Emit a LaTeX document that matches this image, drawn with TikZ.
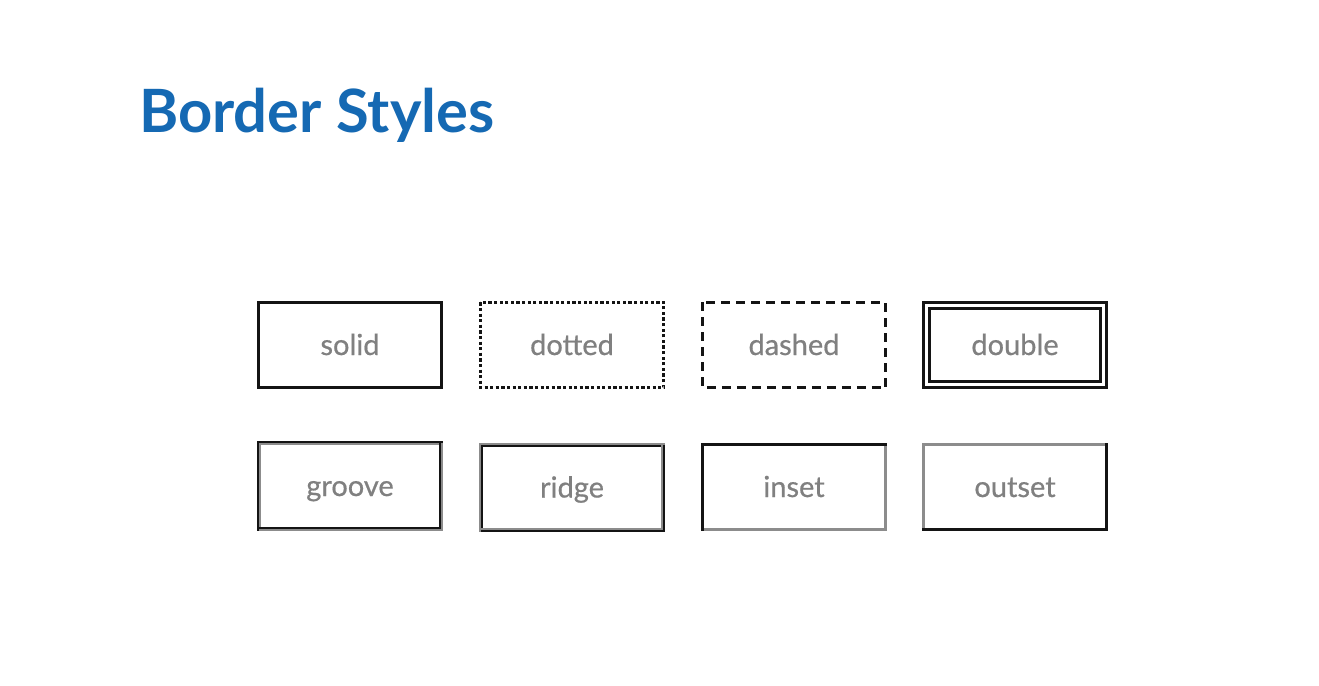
\documentclass[tikz,border=0pt]{standalone}
\usepackage{fontspec}
\setmainfont{Lato}
\newfontfamily\labelfont[FakeBold=0.6]{Lato}
\definecolor{titleblue}{HTML}{1569B3}
\definecolor{labelgray}{HTML}{808080}
\definecolor{edgegray}{HTML}{8C8C8C}
\definecolor{edgedark}{HTML}{141414}
\newcommand{\bevelTL}[4]{% node, color, inset, width
  \draw[line width=#4,color=#2,line cap=rect] ([shift={(#3,#3)}]#1.south west) -- ([shift={(#3,-#3)}]#1.north west) -- ([shift={(-#3,-#3)}]#1.north east);}
\newcommand{\bevelBR}[4]{%
  \draw[line width=#4,color=#2,line cap=rect] ([shift={(#3,#3)}]#1.south west) -- ([shift={(-#3,#3)}]#1.south east) -- ([shift={(-#3,-#3)}]#1.north east);}
\begin{document}
\begin{tikzpicture}[x=1pt,y=-1pt,
  box/.style={minimum width=186pt,minimum height=88pt,inner sep=0pt,
    text height=24pt,text depth=4pt,
    text=labelgray,font=\labelfont\fontsize{29}{32}\selectfont},
  frame/.style={draw=edgedark,line width=3pt}]
\useasboundingbox[fill=white] (0,0) rectangle (1319,685);
\node[anchor=base west,text=titleblue,inner sep=0pt,font=\fontsize{59.7}{64}\bfseries\selectfont] (title) at (139,132) {Border Styles};
% row 1
\node[box] (solid) at (350,345) {solid};
\node[box] (dotted) at (572,345) {dotted};
\node[box] (dashed) at (794,345) {dashed};
\node[box] (double) at (1015,345) {double};
\draw[frame] ([shift={(1.5pt,-1.5pt)}]solid.north west) rectangle ([shift={(-1.5pt,1.5pt)}]solid.south east);
\draw[frame,dash pattern=on 3.2pt off 2.4pt] ([shift={(1.5pt,-1.5pt)}]dotted.north west) rectangle ([shift={(-1.5pt,1.5pt)}]dotted.south east);
\draw[frame,dash pattern=on 9pt off 6pt] ([shift={(1.5pt,-1.5pt)}]dashed.north west) rectangle ([shift={(-1.5pt,1.5pt)}]dashed.south east);
\draw[frame] ([shift={(1.5pt,-1.5pt)}]double.north west) rectangle ([shift={(-1.5pt,1.5pt)}]double.south east);
\draw[frame] ([shift={(8pt,-8pt)}]double.north west) rectangle ([shift={(-8pt,8pt)}]double.south east);
% row 2
\node[box,minimum height=90pt] (groove) at (350,486) {groove};
\node[box,minimum height=89pt] (ridge) at (572,487.5) {ridge};
\node[box] (inset) at (794,487) {inset};
\node[box] (outset) at (1015,487) {outset};
% groove
\bevelBR{groove}{edgegray}{1pt}{2pt}
\bevelTL{groove}{edgedark}{1pt}{2pt}
\bevelTL{groove}{edgegray}{3pt}{2pt}
\bevelBR{groove}{edgedark}{3pt}{2pt}
% ridge
\bevelBR{ridge}{edgedark}{1pt}{2pt}
\bevelTL{ridge}{edgegray}{1pt}{2pt}
\bevelTL{ridge}{edgedark}{3pt}{2pt}
\bevelBR{ridge}{edgegray}{3pt}{2pt}
% inset
\bevelBR{inset}{edgegray}{1.5pt}{3pt}
\bevelTL{inset}{edgedark}{1.5pt}{3pt}
% outset
\bevelTL{outset}{edgegray}{1.5pt}{3pt}
\bevelBR{outset}{edgedark}{1.5pt}{3pt}
\end{tikzpicture}
\end{document}
